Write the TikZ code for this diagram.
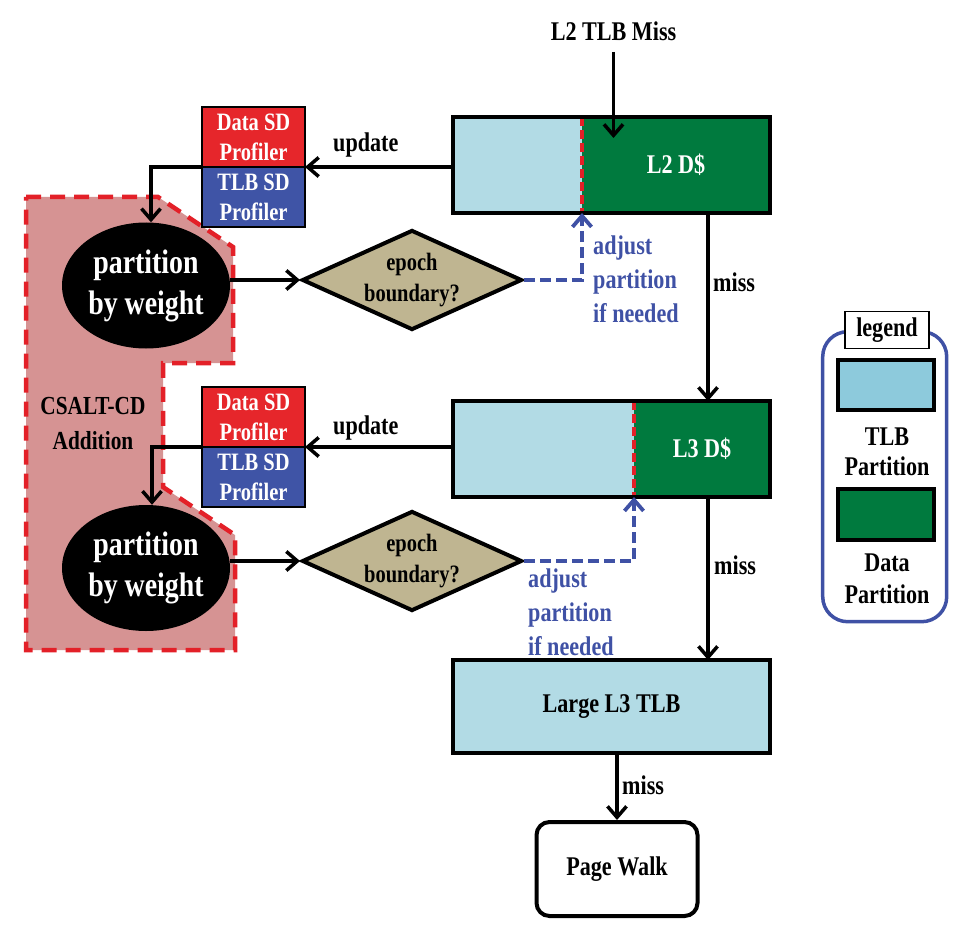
\documentclass[tikz,border=0pt]{standalone}
\usepackage{fontspec}
\setmainfont{Liberation Serif}[FakeStretch=0.82]
\usetikzlibrary{arrows.meta,shapes.geometric,fit,calc}
\definecolor{tlbblue}{HTML}{B2DBE5}
\definecolor{legblue}{HTML}{8DCADC}
\definecolor{datagreen}{HTML}{007A3E}
\definecolor{profred}{HTML}{E6262B}
\definecolor{profblue}{HTML}{3F54A6}
\definecolor{tan}{HTML}{BFB591}
\definecolor{pinkfill}{HTML}{D69393}
\definecolor{reddash}{HTML}{E32028}
\definecolor{adjblue}{HTML}{3F51A5}
\newcommand\myfs[2]{\fontsize{#1}{#2}\selectfont\bfseries}
\tikzset{
  txt/.style={font=\myfs{27}{34}, inner sep=0pt, align=center},
  part/.style={inner sep=0pt, outer sep=0pt, minimum height=96pt, anchor=north west},
  frame/.style={draw=black, line width=4.5pt, inner sep=0pt, outer sep=0pt},
  prof/.style={draw=black, line width=2.8pt, inner sep=0pt, outer sep=0pt, minimum width=103pt, minimum height=60pt, anchor=north west, text=white, font=\myfs{25}{30}, align=center},
  pbw/.style={ellipse, fill=black, text=white, minimum width=168pt, minimum height=126pt, inner sep=0pt, font=\myfs{34}{41}, align=center},
  epoch/.style={diamond, draw=black, line width=4pt, fill=tan, minimum width=220pt, minimum height=100pt, inner sep=0pt, aspect=2.2},
  arr/.style={line width=3.5pt, -{Straight Barb[length=11pt,width=19pt]}},
  bluearr/.style={line width=3.8pt, draw=adjblue, dash pattern=on 11pt off 5pt, -{Straight Barb[length=11pt,width=19pt]}},
  divider/.style={draw=reddash, line width=3.5pt, dash pattern=on 9pt off 4pt},
  adjtxt/.style={font=\myfs{27}{34}, text=adjblue, inner sep=0pt, align=left, anchor=west},
  misstxt/.style={font=\myfs{27}{34}, inner sep=0pt, anchor=west},
}
\begin{document}
\begin{tikzpicture}[x=1pt,y=-1pt]
\useasboundingbox (0,0) rectangle (965,933);

% CSALT-CD region
\draw[fill=pinkfill, draw=reddash, line width=4.5pt, dash pattern=on 15pt off 9pt]
  (26,197) -- (158,197) -- (233,247) -- (233,363) -- (163,363) -- (163,487)
  -- (235,535) -- (235,650) -- (26,650) -- cycle;
\node[txt, font=\myfs{26}{35}] (csalt) at (93,424) {CSALT-CD\\Addition};

% top label
\node[txt] (miss0) at (613.5,31) {L2 TLB Miss};

% L2 D$
\node[part, fill=tlbblue, minimum width=129pt] (l2t) at (453,117) {};
\node[part, fill=datagreen, minimum width=188pt, text=white, font=\myfs{27}{34}] (l2d) at (582,117) {L2 D\$};
\draw[divider] (l2d.north west) -- (l2d.south west);
\node[frame, fit=(l2t)(l2d)] (l2) {};

% L3 D$
\node[part, fill=tlbblue, minimum width=181pt] (l3t) at (453,401) {};
\node[part, fill=datagreen, minimum width=136pt, text=white, font=\myfs{27}{34}] (l3d) at (634,401) {L3 D\$};
\draw[divider] (l3d.north west) -- (l3d.south west);
\node[frame, fit=(l3t)(l3d)] (l3) {};

% Large L3 TLB
\node[frame, fill=tlbblue, minimum width=317pt, minimum height=93pt, font=\myfs{27}{34}] (tlb3) at (611.5,706.5) {Large L3 TLB};

% Page walk
\node[draw=black, line width=4pt, rounded corners=13pt, minimum width=161pt, minimum height=94pt, inner sep=0pt, font=\myfs{27}{34}] (pw) at (617,869) {Page Walk};

% profilers
\node[prof, fill=profred] (data1) at (202,107) {Data SD\\Profiler};
\node[prof, fill=profblue] (tlb1) at (202,167) {TLB SD\\Profiler};
\node[prof, fill=profred] (data2) at (202,387) {Data SD\\Profiler};
\node[prof, fill=profblue] (tlb2) at (202,447) {TLB SD\\Profiler};

% partition by weight
\node[pbw] (pbw1) at (146,285.5) {partition\\by weight};
\node[pbw] (pbw2) at (146,568) {partition\\by weight};

% epoch boundary
\node[epoch, label={[font=\myfs{25}{31}, align=center]center:epoch\\boundary?}] (d1) at (412,280) {};
\node[epoch, label={[font=\myfs{25}{31}, align=center]center:epoch\\boundary?}] (d2) at (412,561) {};

% connectors
\draw[arr] ([yshift=-21pt]miss0.center) -- ([yshift=-21pt]miss0.center |- l2.north);

\draw[arr] (l2.west |- tlb1.north east) -- (tlb1.north east);
\node[misstxt] (up1) at (333,145) {update};
\draw[arr] (tlb1.north west) -| ([xshift=5pt]pbw1.north);
\draw[arr] (d1.west -| pbw1.east) -- (d1.west);
\draw[bluearr] (d1.east) -| (l2d.south west);
\node[adjtxt] (adj1) at (593,279) {adjust\\partition\\if needed};

\draw[arr] ([xshift=96.5pt]l2.south) -- ([xshift=96.5pt]l2.south |- l3.north);
\node[misstxt] (m1) at (713,282) {miss};

\draw[arr] (l3.west |- tlb2.north east) -- (tlb2.north east);
\node[misstxt] (up2) at (333,428) {update};
\draw[arr] (tlb2.north west) -| ([xshift=6pt]pbw2.north);
\draw[arr] (d2.west -| pbw2.east) -- (d2.west);
\draw[bluearr] (d2.east) -| (l3d.south west);
\node[adjtxt] (adj2) at (528,612) {adjust\\partition\\if needed};

\draw[arr] ([xshift=96.5pt]l3.south) -- ([xshift=96.5pt]l3.south |- tlb3.north);
\node[misstxt] (m2) at (714,565) {miss};

\draw[arr] (pw.north |- tlb3.south) -- (pw.north);
\node[misstxt] (m3) at (622,785) {miss};

% legend
\node[draw=adjblue, line width=3.5pt, rounded corners=25pt, minimum width=124pt, minimum height=290pt, inner sep=0pt] (legend) at (884.7,476.7) {};
\node[draw=black, fill=white, line width=1.4pt, minimum width=84pt, minimum height=37pt, inner sep=0pt, font=\myfs{27}{34}] (legtitle) at (887,330) {legend};
\node[frame, fill=legblue, minimum width=96pt, minimum height=50pt] (legtlb) at (886,385) {};
\node[txt, font=\myfs{27}{30}] (legtlbtxt) at (887,452) {TLB\\Partition};
\node[frame, fill=datagreen, minimum width=96pt, minimum height=51pt] (legdata) at (886,514.5) {};
\node[txt, font=\myfs{27}{32}] (legdatatxt) at (887,579) {Data\\Partition};
\end{tikzpicture}
\end{document}
